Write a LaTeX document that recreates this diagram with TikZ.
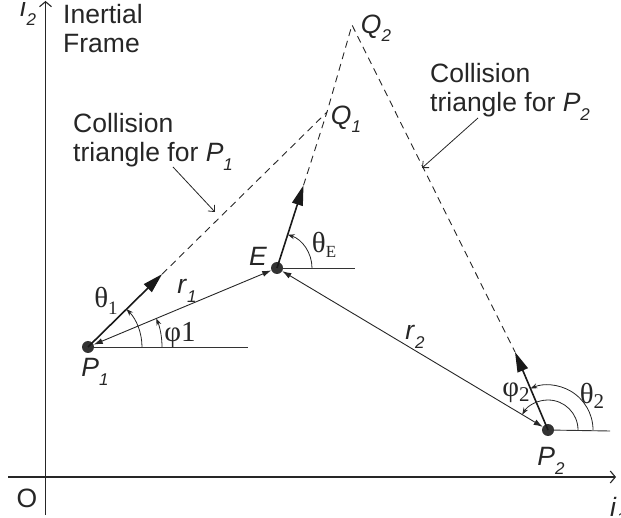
\documentclass[tikz,border=0pt]{standalone}
\usepackage{fontspec}
\setmainfont{Liberation Sans}
\newfontfamily\grk{Liberation Serif}
\usetikzlibrary{arrows.meta,calc}
\newcommand{\mysub}[2]{#1\raisebox{-0.32em}{\fontsize{17}{17}\selectfont #2}}
\begin{document}
\begin{tikzpicture}[x=1pt,y=1pt,
  every node/.style={text=black!85,font=\fontsize{26.5}{29.5}\selectfont},
  dot/.style={circle,fill=black!80,minimum size=12pt,inner sep=0pt},
  axis/.style={line width=1.1pt,black!85,-{Straight Barb[length=5pt,width=12pt]}},
  heading/.style={line width=1.6pt,black!90,-{Triangle[length=20pt,width=11pt]}},
  rline/.style={line width=0.9pt,black!85,{Latex[length=9pt,width=6pt]}-{Latex[length=9pt,width=6pt]}},
  dashline/.style={line width=0.9pt,black!85,dash pattern=on 7pt off 5pt},
  refline/.style={line width=0.9pt,black!80},
  anglearc/.style={line width=0.8pt,black!85,-{Stealth[length=7pt,width=5pt]}},
  pointer/.style={line width=0.8pt,black!85,-{Straight Barb[length=5pt,width=9pt]}},
  lbl/.style={inner sep=0pt},
  greek/.style={inner sep=0pt,font=\fontsize{29}{29}\selectfont\grk}
]
\useasboundingbox (0,-518) rectangle (621,0);
% axes
\coordinate (Ob) at (45.5,-515);
\coordinate (Yt) at (45.5,-1);
\coordinate (Xl) at (8,-477);
\coordinate (Xr) at (616,-477);
\draw[axis] (Ob) -- (Yt);
\draw[axis] (Xl) -- (Xr);
\node[lbl,anchor=base west] (i2) at (20,-17) {\mysub{\textit{i}}{\textit{2}}};
\node[lbl,anchor=base west] (i1) at (610,-516) {\mysub{\textit{i}}{\textit{1}}};
\node[lbl] (O) at (27,-498) {O};
\node[lbl,anchor=base west,align=left] (frame) at (63,-53) {Inertial\\Frame};

% points
\coordinate (Q1) at (327,-112);
\coordinate (Q2) at (352,-25);
\node[dot] (P1) at (88,-347) {};
\node[dot] (E) at (277,-268) {};
\node[dot] (P2) at (548,-430) {};
\coordinate (T1) at ($(P1.center)!0.31!(Q1)$);
\coordinate (TE) at ($(E.center)!0.53!(Q1)$);
\coordinate (T2) at (515,-352);

% reference horizontals
\coordinate (H1) at (248,-347);
\coordinate (HE) at (355,-268);
\coordinate (H2) at (610,-431);
\draw[refline] (P1.center) -- (H1);
\draw[refline] (E.center) -- (HE);
\draw[refline] (P2.center) -- (H2);

% dashed collision triangles
\draw[dashline] (T1) -- (Q1);
\draw[dashline] (TE) -- (Q1) -- (Q2) -- (T2);

% r vectors
\draw[rline] (P1) -- (E);
\draw[rline] (E) -- (P2);

% headings
\draw[heading] (P1.center) -- (T1);
\draw[heading] (E.center) -- (TE);
\draw[heading] (P2.center) -- (T2);

% angle arcs
\draw[anglearc] ($(P1.center)+(74,0)$) arc[start angle=0,end angle=22.7,radius=74pt];
\draw[anglearc] ($(P1.center)+(54,0)$) arc[start angle=0,end angle=44.5,radius=54pt];
\draw[anglearc] ($(E.center)+(35,0)$) arc[start angle=0,end angle=72.2,radius=35pt];
\draw[anglearc] ($(P2.center)+(30,0)$) arc[start angle=0,end angle=149.1,radius=30pt];
\draw[anglearc] ($(P2.center)+(45,0)$) arc[start angle=0,end angle=112.9,radius=45pt];

% labels
\node[lbl] (lP1) at (95,-372) {\mysub{\textit{P}}{\textit{1}}};
\node[lbl] (lP2) at (551,-461) {\mysub{\textit{P}}{\textit{2}}};
\node[lbl] (lE) at (258,-256) {\textit{E}};
\node[lbl] (lQ1) at (346,-119) {\mysub{\textit{Q}}{\textit{1}}};
\node[lbl] (lQ2) at (376,-28) {\mysub{\textit{Q}}{\textit{2}}};
\node[lbl] (lr1) at (187,-291) {\mysub{\textit{r}}{\textit{1}}};
\node[lbl] (lr2) at (415,-337) {\mysub{\textit{r}}{\textit{2}}};
\node[greek] (th1) at (106,-301) {θ\raisebox{-0.22em}{\fontsize{19}{19}\selectfont 1}};
\node[greek] (ph1) at (180,-335) {φ1};
\node[greek] (thE) at (324,-245) {θ\raisebox{-0.18em}{\fontsize{17}{17}\selectfont E}};
\node[greek] (ph2) at (516,-393) {φ\raisebox{-0.18em}{\fontsize{21}{21}\selectfont 2}};
\node[greek] (th2) at (592,-396) {θ\raisebox{-0.18em}{\fontsize{21}{21}\selectfont 2}};

% collision triangle annotations
\node[lbl,anchor=base west,align=left] (ct1) at (73,-162) {Collision\\triangle for \mysub{\textit{P}}{\textit{1}}};
\node[lbl,anchor=base west,align=left] (ct2) at (430,-112) {Collision\\triangle for \mysub{\textit{P}}{\textit{2}}};
\coordinate (c1s) at (173,-167);
\coordinate (c1e) at (215,-212);
\coordinate (c2s) at (478,-118);
\coordinate (c2e) at (422,-168);
\draw[pointer] (c1s) -- (c1e);
\draw[pointer] (c2s) -- (c2e);
\end{tikzpicture}
\end{document}
